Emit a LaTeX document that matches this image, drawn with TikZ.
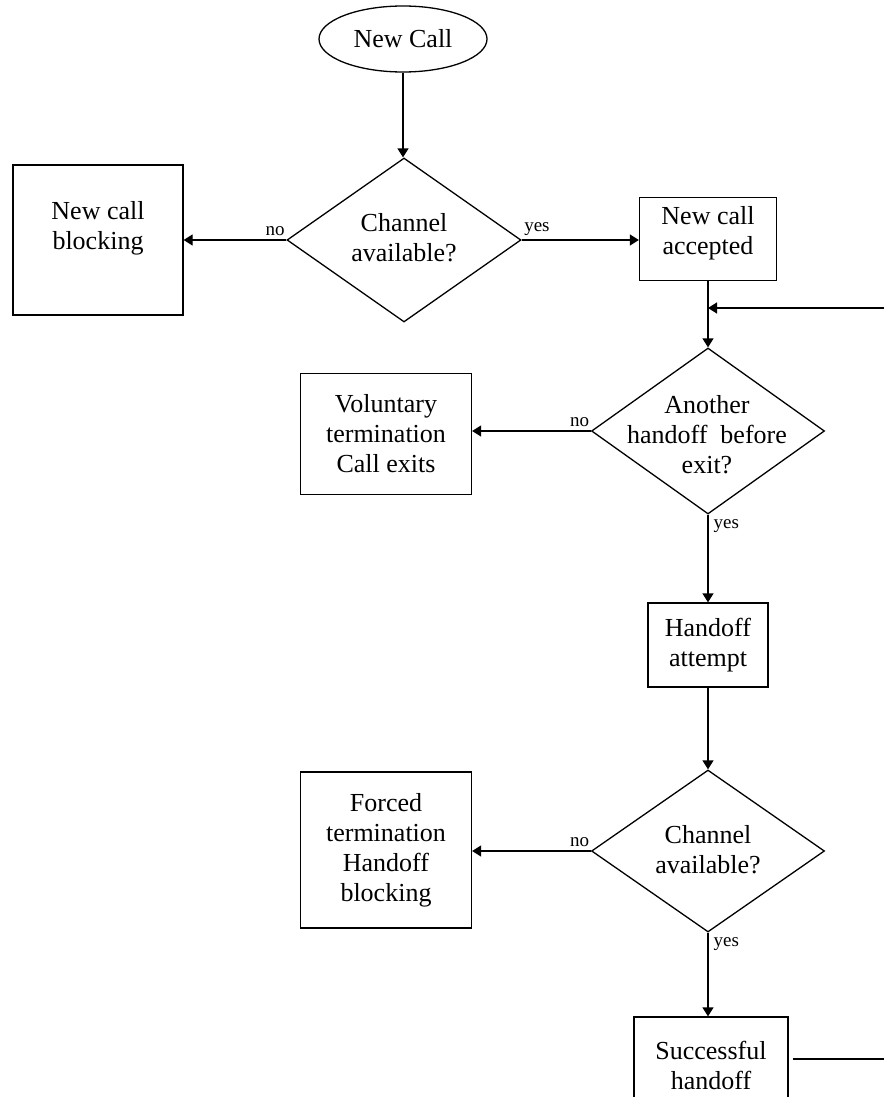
\documentclass[tikz,border=0pt]{standalone}
\usepackage{fontspec}
\setmainfont{Liberation Serif}
\usetikzlibrary{shapes.geometric,arrows.meta,calc}
\begin{document}
\begin{tikzpicture}[x=1pt,y=-1pt,
  line width=1.3pt,
  arr/.style={-{Triangle[length=9pt,width=11pt]}},
  box/.style={draw,rectangle,inner sep=0pt,align=center,font=\fontsize{26}{30}\selectfont},
  dia/.style={draw,diamond,inner sep=0pt},
  txt/.style={align=center,inner sep=0pt,font=\fontsize{26}{30}\selectfont},
  lbl/.style={inner sep=1pt,font=\fontsize{19}{20}\selectfont}]
\useasboundingbox (0,0) rectangle (884,1097);
\clip (0,0) rectangle (884,1097);

% start
\node[draw,ellipse,inner sep=0pt,minimum width=168,minimum height=66,font=\fontsize{26}{30}\selectfont] (newcall) at (403,39) {New Call};

% first decision
\node[dia,minimum width=234,minimum height=164] (d1) at (404,240) {};
\node[txt] (d1t) at (404,238) {Channel\\available?};

\node[box,minimum width=170,minimum height=150] (ncb) at (98,240) {};
\node[txt] (ncbt) at (98,228) {New call\\blocking};

\node[box,minimum width=137,minimum height=83] (nca) at (708,239) {};
\node[txt] (ncat) at (708,233) {New call\\accepted};

% second decision
\node[dia,minimum width=233,minimum height=166] (d2) at (708,431) {};
\node[txt] (d2t) at (707,435) {Another\\handoff\enspace before\\exit?};

\node[box,minimum width=171,minimum height=121] (vol) at (386,434) {Voluntary\\termination\\Call exits};

\node[box,minimum width=120,minimum height=84] (ha) at (708,645) {Handoff\\attempt};

% third decision
\node[dia,minimum width=233,minimum height=162] (d3) at (708,851) {};
\node[txt] (d3t) at (708,850) {Channel\\available?};

\node[box,minimum width=171,minimum height=156] (ft) at (386,850) {Forced\\termination\\Handoff\\blocking};

\node[box,minimum width=154,minimum height=96] (sh) at (711,1065) {Successful\\handoff};

\coordinate (rin) at (884,308);
\coordinate (rout) at (884,1059);

% connectors
\draw[arr] (newcall.south) -- (newcall.south |- d1.north);
\draw[arr] (d1.west) -- (d1.west -| ncb.east);
\node[lbl,anchor=south east] at ($(d1.west)+(0,-3)$) {no};
\draw[arr] (d1.east) -- (d1.east -| nca.west);
\node[lbl,anchor=south west] at ($(d1.east)+(1,-3)$) {yes};

\draw[arr] (nca.south) -- (d2.north);
\draw[arr] (rin) -- (rin -| nca.south);

\draw[arr] (d2.west) -- (d2.west -| vol.east);
\node[lbl,anchor=south east] at ($(d2.west)+(0,-3)$) {no};
\draw[arr] (d2.south) -- (ha.north);
\node[lbl,anchor=north west] at ($(d2.south)+(4,3)$) {yes};

\draw[arr] (ha.south) -- (d3.north);

\draw[arr] (d3.west) -- (d3.west -| ft.east);
\node[lbl,anchor=south east] at ($(d3.west)+(0,-3)$) {no};
\draw[arr] (d3.south) -- (d3.south |- sh.north);
\node[lbl,anchor=north west] at ($(d3.south)+(4,3)$) {yes};

\draw ($(sh.east |- rout)+(4,0)$) -- (rout);
\end{tikzpicture}
\end{document}
